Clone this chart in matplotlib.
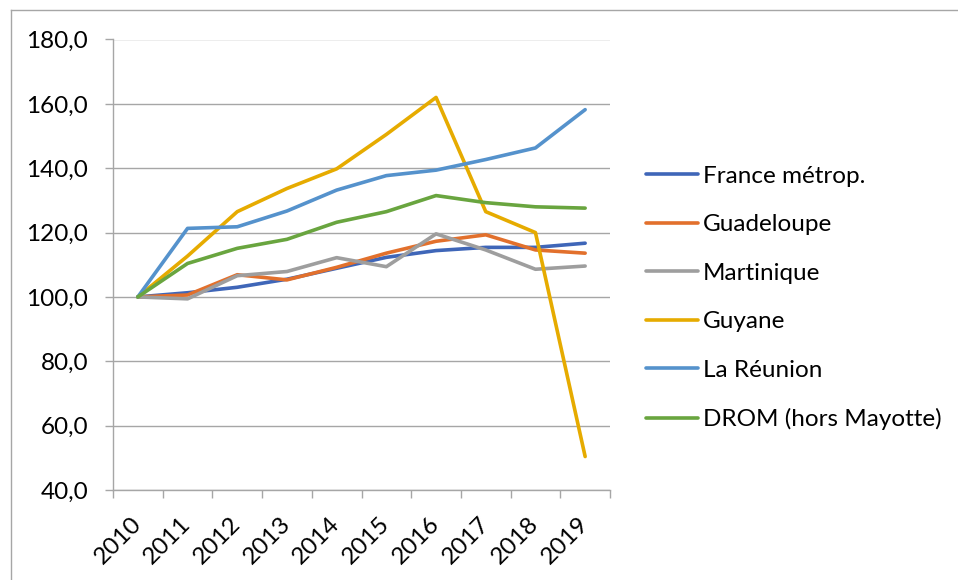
import matplotlib
matplotlib.use('Agg')
import matplotlib.pyplot as plt
from matplotlib.lines import Line2D

plt.rcParams['font.family'] = ['Lato', 'DejaVu Sans']

years = ['2010', '2011', '2012', '2013', '2014', '2015', '2016', '2017', '2018', '2019']

france = [100.0, 101.3, 103.0, 105.5, 108.9, 112.3, 114.4, 115.4, 115.4, 116.7]
guadeloupe = [100.0, 100.6, 106.9, 105.3, 109.2, 113.6, 117.3, 119.3, 114.6, 113.6]
martinique = [100.0, 99.4, 106.6, 107.9, 112.2, 109.4, 119.6, 114.6, 108.6, 109.6]
guyane = [100.0, 112.7, 126.5, 133.7, 139.8, 150.5, 162.0, 126.5, 120.0, 50.4]
reunion = [100.0, 121.3, 121.8, 126.7, 133.2, 137.7, 139.4, 142.7, 146.3, 158.2]
drom = [100.0, 110.4, 115.1, 117.9, 123.2, 126.5, 131.5, 129.3, 128.0, 127.6]

series = [
    ('France métrop.', france, '#3F66B8'),
    ('Guadeloupe', guadeloupe, '#E2702C'),
    ('Martinique', martinique, '#9E9E9E'),
    ('Guyane', guyane, '#E6AB00'),
    ('La Réunion', reunion, '#5592CC'),
    ('DROM (hors Mayotte)', drom, '#69A53F'),
]

fs = 17.5

fig = plt.figure(figsize=(9.58, 5.80), dpi=100)
ax = fig.add_axes([113 / 958, 1 - 490 / 580, (610 - 113) / 958, (490 - 39.5) / 580])

x = [i + 0.5 for i in range(len(years))]
for name, vals, col in series:
    ax.plot(x, vals, color=col, lw=2.6, label=name, solid_capstyle='round', solid_joinstyle='round')

ax.set_xlim(0, len(years))
ax.set_ylim(40, 180)
ax.set_yticks(range(40, 181, 20))
ax.set_yticklabels(['{:.1f}'.format(v).replace('.', ',') for v in range(40, 181, 20)])
ax.yaxis.grid(True, color='#A6A6A6', lw=1.0)
ax.set_axisbelow(True)

ax.set_xticks(range(len(years) + 1))
ax.set_xticklabels([])
ax.set_xticks(x, minor=True)
ax.set_xticklabels(years, minor=True, rotation=45, ha='right', va='center',
                   rotation_mode='anchor', fontsize=fs)
ax.tick_params(axis='x', which='minor', length=0, pad=22)
ax.tick_params(axis='x', which='major', length=6, color='#A6A6A6', width=1.0)
ax.tick_params(axis='y', length=6, color='#A6A6A6', width=1.0, labelsize=fs, pad=12)

for s in ['top', 'right']:
    ax.spines[s].set_visible(False)
for s in ['left', 'bottom']:
    ax.spines[s].set_color('#A6A6A6')
    ax.spines[s].set_linewidth(1.0)

leg = fig.legend(loc='center left', bbox_to_anchor=(624 / 958, 1 - 298 / 580), frameon=False,
                 fontsize=fs, handlelength=2.14, handletextpad=0.22, labelspacing=1.13)

# outer chart border (left and top edges visible)
fig.add_artist(Line2D([10.5 / 958, 10.5 / 958], [0, 1 - 10 / 580], transform=fig.transFigure, color='#A6A6A6', lw=1.0))
fig.add_artist(Line2D([10.5 / 958, 1], [1 - 10 / 580, 1 - 10 / 580], transform=fig.transFigure, color='#A6A6A6', lw=1.0))

fig.savefig('out.png', dpi=100)
